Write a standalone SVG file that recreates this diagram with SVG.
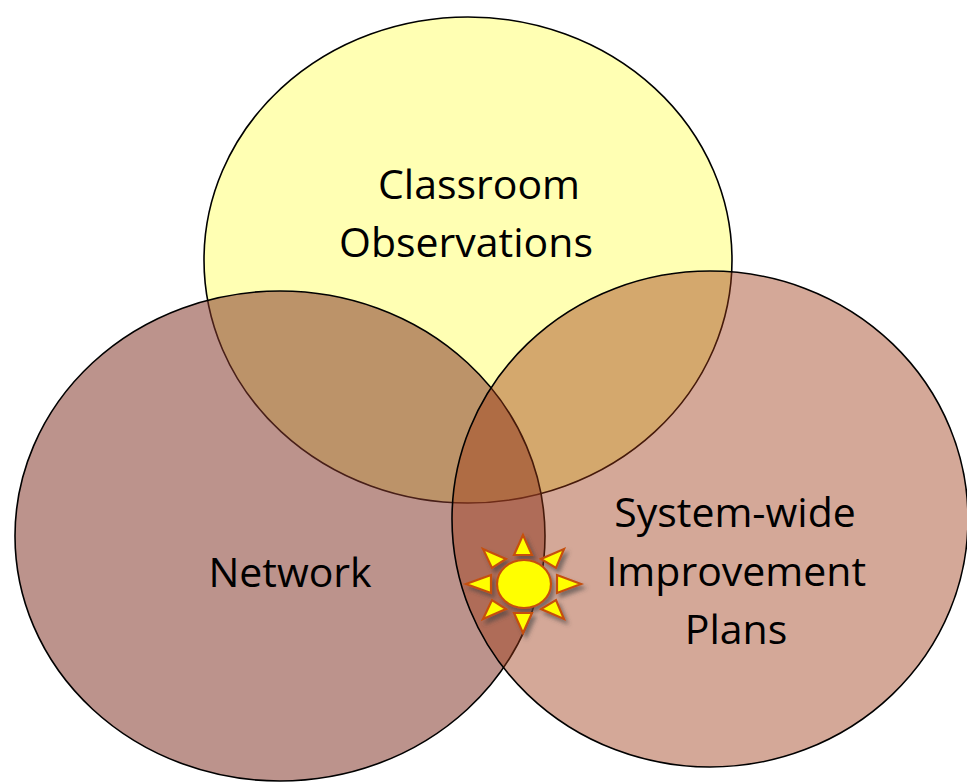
<svg xmlns="http://www.w3.org/2000/svg" width="967" height="782" viewBox="0 0 967 782">
<style>
.lbl{font-family:"Open Sans","Noto Sans","Liberation Sans",sans-serif;font-size:41px;fill:#000;text-anchor:middle}
.circ{stroke:#000;stroke-width:1.6}
.ray{fill:#FFFF00;stroke:#C5500F;stroke-width:2.2;stroke-linejoin:miter}
</style>
<defs>
<filter id="shadow" x="-30%" y="-30%" width="160%" height="160%">
<feDropShadow dx="3" dy="4" stdDeviation="2.2" flood-color="#404040" flood-opacity="0.6"/>
</filter>
</defs>
<rect width="967" height="782" fill="#ffffff"/>
<g id="classroom-observations">
<ellipse class="circ" cx="468" cy="260" rx="264" ry="243" fill="#FFFFB3" stroke-width="1.3"/>
<text class="lbl" x="479" y="199">Classroom</text>
<text class="lbl" x="466" y="257">Observations</text>
</g>
<g id="network">
<ellipse class="circ" cx="280" cy="536" rx="265" ry="245" fill="rgb(132,56,44)" fill-opacity="0.544"/>
<text class="lbl" x="290" y="587">Network</text>
</g>
<g id="system-wide-improvement-plans">
<ellipse class="circ" cx="710" cy="519" rx="258" ry="248" fill="rgb(158,59,23)" fill-opacity="0.443"/>
<text class="lbl" x="735" y="527">System-wide</text>
<text class="lbl" x="736" y="586">Improvement</text>
<text class="lbl" x="736" y="644">Plans</text>
</g>
<g id="sun" filter="url(#shadow)">
<path class="ray" d="M523,535 L532,555 L514,555 Z M523,633 L514,613 L532,613 Z M466,584 L491,575 L491,593 Z M581,584 L557,593 L557,575 Z M483,549 L506,559 L492,568 Z M564,549 L556,568 L541,559 Z M483,619 L492,600 L506,609 Z M564,619 L541,609 L556,600 Z"/>
<ellipse class="ray" cx="524" cy="584" rx="27" ry="24"/>
</g>
</svg>
